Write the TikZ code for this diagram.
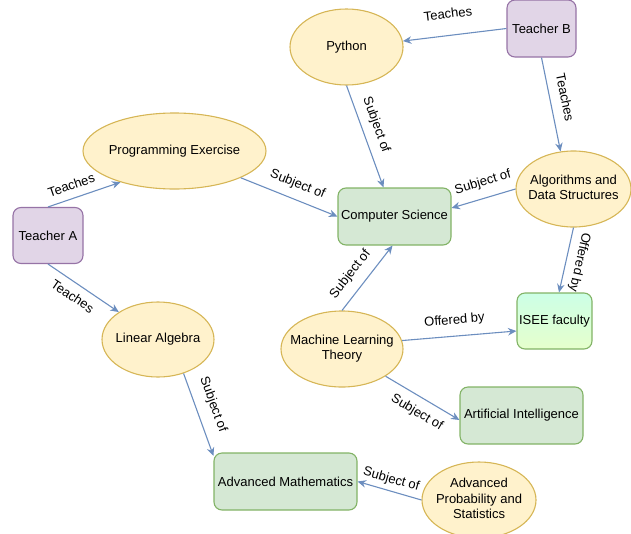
\documentclass[tikz,border=0pt]{standalone}
\usepackage{fontspec}
\setmainfont{Liberation Sans}
\usetikzlibrary{shapes.geometric,arrows.meta}
\definecolor{yfill}{HTML}{FFF2CC}
\definecolor{ydraw}{HTML}{D6B656}
\definecolor{pfill}{HTML}{E1D5E7}
\definecolor{pdraw}{HTML}{9673A6}
\definecolor{gfill}{HTML}{D5E8D4}
\definecolor{gdraw}{HTML}{82B366}
\definecolor{edgec}{HTML}{6C8EBF}
\definecolor{isetop}{HTML}{CCFFE6}
\definecolor{isebot}{HTML}{E6FFCC}
\newcommand{\ctext}[1]{\makebox[0pt]{\begin{tabular}{@{}c@{}}#1\end{tabular}}}
\tikzset{
  base/.style={font=\fontsize{13pt}{15.7pt}\selectfont, inner sep=0pt, align=center, line width=1.1pt},
  course/.style={base, ellipse, draw=ydraw, fill=yfill, minimum width=#1, minimum height=76pt},
  teacher/.style={base, rectangle, rounded corners=8pt, draw=pdraw, fill=pfill, minimum width=70pt, minimum height=56pt},
  field/.style={base, rectangle, rounded corners=8pt, draw=gdraw, fill=gfill, minimum width=#1, minimum height=57pt},
  conn/.style={draw=edgec, line width=1.1pt, -{Stealth[length=8.5pt,width=7.5pt]}},
  lbl/.style={font=\fontsize{13pt}{15.7pt}\selectfont, sloped, inner xsep=1pt, inner ysep=#1, text height=9.5pt, text depth=2.7pt}
}
\begin{document}
\begin{tikzpicture}[x=1pt,y=-1pt]
\useasboundingbox (0,0) rectangle (631,533);
% nodes
\node[teacher, minimum width=69pt, minimum height=57pt] (tb) at (541.5,28.5) {Teacher B};
\node[course=113pt] (py) at (346.5,47) {\ctext{Python}};
\node[course=183pt] (pe) at (174.5,151) {\ctext{Programming Exercise}};
\node[teacher] (ta) at (48,235.5) {Teacher A};
\node[field=113pt] (cs) at (394.5,216.5) {Computer Science};
\node[course=115pt] (al) at (573.5,189) {\ctext{Algorithms and\\Data Structures}};
\node[base, rectangle, rounded corners=8pt, draw=gdraw, top color=isetop, bottom color=isebot, minimum width=75pt, minimum height=56pt] (is) at (554.5,321) {ISEE faculty};
\node[course=112pt, minimum height=75pt] (la) at (158,339.5) {\ctext{Linear Algebra}};
\node[course=122pt] (ml) at (342,349) {\ctext{Machine Learning\\Theory}};
\node[field=123pt] (ai) at (521.5,415.5) {Artificial Intelligence};
\node[field=143pt] (am) at (285.5,481.5) {Advanced Mathematics};
\node[course=114pt] (aps) at (479,500) {\ctext{Advanced\\Probability and\\Statistics}};
% connectors
\draw[conn] (tb.west) -- node[lbl=13.9pt, above, pos=0.54] {Teaches} (py.6);
\draw[conn] (tb.south) -- node[lbl=7.4pt, above, pos=0.46] {Teaches} (al.109);
\draw[conn] (py.south) -- node[lbl=7.9pt, above, pos=0.435] {Subject of} ([xshift=-11pt]cs.north);
\draw[conn] (pe.338) -- node[lbl=8.3pt, above, pos=0.53] {Subject of} (cs.west);
\draw[conn] (ta.north) -- node[lbl=5.3pt, above, pos=0.38] {Teaches} (pe.210);
\draw[conn] (ta.south) -- node[lbl=7.4pt, below, pos=0.45] {Teaches} (la.145);
\draw[conn] (al.west) -- node[lbl=8.8pt, above, pos=0.44] {Subject of} ([yshift=8.5pt]cs.east);
\draw[conn] (al.south) -- node[lbl=6.6pt, above, pos=0.49, allow upside down] {Offered by} ([xshift=4.5pt]is.north);
\draw[conn] (ml.north) -- node[lbl=8.9pt, above, pos=0.41] {Subject of} ([xshift=-2pt]cs.south);
\draw[conn] (ml.8) -- node[lbl=8.9pt, above, pos=0.47] {Offered by} ([yshift=-10pt]is.west);
\draw[conn] (ml.328) -- node[lbl=8.7pt, below, pos=0.53] {Subject of} ([yshift=-4.5pt]ai.west);
\draw[conn] (la.307) -- node[lbl=10.5pt, above, pos=0.45] {Subject of} ([yshift=-3.5pt]am.north west);
\draw[conn] (aps.west) -- node[lbl=4.5pt, above, pos=0.52] {Subject of} (am.east);
\end{tikzpicture}
\end{document}
